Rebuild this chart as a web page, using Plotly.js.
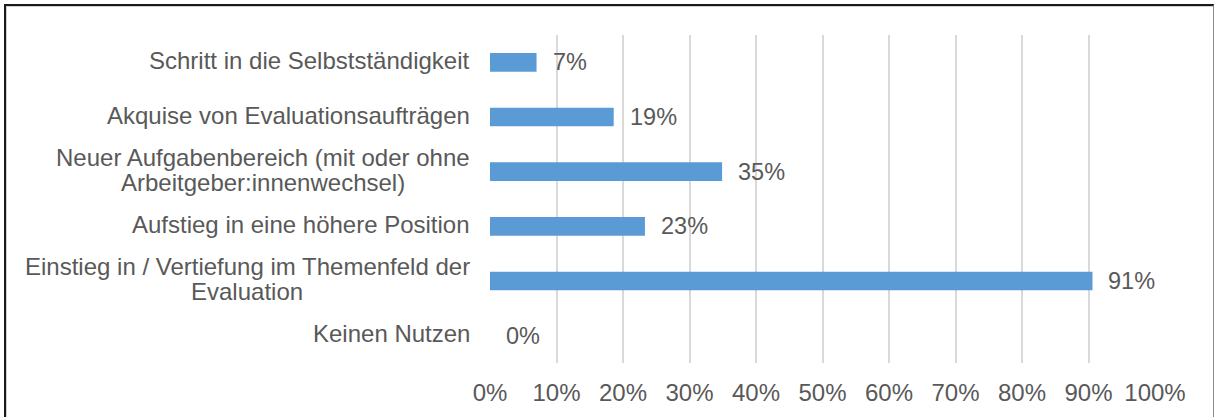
<!DOCTYPE html>
<html>
<head>
<meta charset="utf-8">
<script src="https://cdn.plot.ly/plotly-3.0.1.min.js"></script>
<style>
  html, body { margin: 0; padding: 0; background: #ffffff; }
  #frame {
    position: absolute; left: 4px; top: 4px; width: 1210px; height: 430px;
    border-left: 2px solid #1a1a1a; border-top: 2px solid #1a1a1a; border-right: 1px solid #8c8c8c;
    box-shadow: inset 1px 1px 0 #d0d0d0;
    box-sizing: border-box;
  }
  #chart { position: absolute; left: 0; top: 0; width: 1218px; height: 417px; }
</style>
</head>
<body>
<div id="frame"></div>
<div id="chart"></div>
<script>
// Categories listed bottom to top (lines of a label separated by "\n")
const categories = [
  "Keinen Nutzen",
  "Einstieg in / Vertiefung im Themenfeld der\nEvaluation",
  "Aufstieg in eine höhere Position",
  "Neuer Aufgabenbereich (mit oder ohne\nArbeitgeber:innenwechsel)",
  "Akquise von Evaluationsaufträgen",
  "Schritt in die Selbstständigkeit"
];
const values = [0, 90.6, 23.3, 34.9, 18.6, 7.0];
const valueLabels = ["0%", "91%", "23%", "35%", "19%", "7%"];
const xTickVals = [0, 10, 20, 30, 40, 50, 60, 70, 80, 90, 100];
const xTickText = ["0%", "10%", "20%", "30%", "40%", "50%", "60%", "70%", "80%", "90%", "100%"];

const textColor = "#595959";
const fontFam = "Liberation Sans, Arial, sans-serif";
const catFontSize = 24;
const W = 1218, H = 417;
const M = { l: 490, r: 63, t: 35, b: 54 };
const plotW = W - M.l - M.r;
const labelRightPx = 470;

const trace = {
  type: "bar",
  orientation: "h",
  x: values,
  y: categories,
  marker: { color: "#5B9BD5" },
  hoverinfo: "none"
};

const annotations = values.map((v, i) => ({
  x: v, y: categories[i], xref: "x", yref: "y",
  text: valueLabels[i], showarrow: false,
  xanchor: "left", yanchor: "middle", xshift: 14,
  font: { family: fontFam, size: 23.5, color: textColor }
}));

// Category labels: lines centered on each other, block right-aligned, tight line spacing
const ctx = document.createElement("canvas").getContext("2d");
ctx.font = catFontSize + "px 'Liberation Sans', Arial, sans-serif";
const lineGap = 25;
categories.forEach((cat) => {
  const lines = cat.split("\n");
  const maxW = Math.max(...lines.map(s => ctx.measureText(s).width));
  const centerPx = labelRightPx - maxW / 2;
  const n = lines.length;
  lines.forEach((line, j) => {
    const offset = ((n - 1) / 2 - j) * lineGap + 2;
    annotations.push({
      x: (centerPx - M.l) / plotW, xref: "paper",
      y: cat, yref: "y",
      text: line, showarrow: false,
      xanchor: "center", yanchor: "middle", yshift: offset,
      font: { family: fontFam, size: catFontSize, color: textColor }
    });
  });
});

const layout = {
  width: W, height: H,
  margin: { l: M.l, r: M.r, t: M.t, b: M.b, pad: 0 },
  paper_bgcolor: "rgba(0,0,0,0)",
  plot_bgcolor: "rgba(0,0,0,0)",
  bargap: 0.66,
  showlegend: false,
  font: { family: fontFam, size: 24, color: textColor },
  xaxis: {
    range: [0, 100],
    tickvals: xTickVals, ticktext: xTickText,
    showgrid: true, gridcolor: "#D9D9D9", gridwidth: 2,
    zeroline: false, showline: false,
    ticks: "", ticklabelstandoff: 13,
    tickfont: { family: fontFam, size: 24, color: textColor },
    fixedrange: true
  },
  yaxis: {
    categoryorder: "array", categoryarray: categories,
    showgrid: false, zeroline: false, showline: false,
    ticks: "", showticklabels: false,
    fixedrange: true
  },
  annotations: annotations
};

Plotly.newPlot("chart", [trace], layout, { displayModeBar: false, staticPlot: true });
</script>
</body>
</html>
